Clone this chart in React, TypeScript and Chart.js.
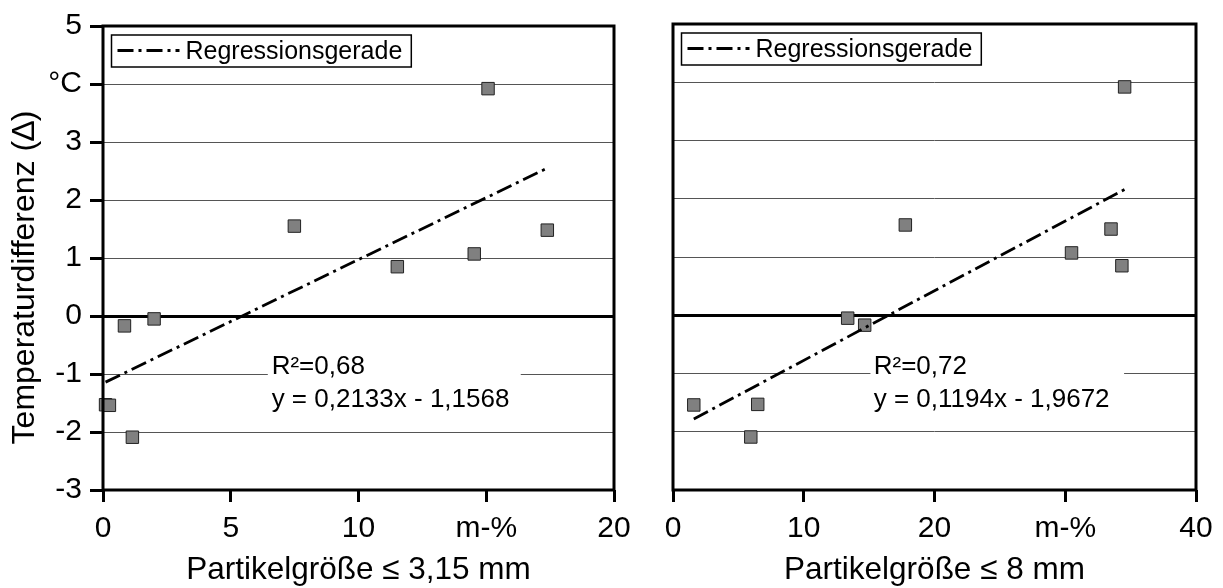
import React, { useEffect, useRef } from 'react';
import { Chart, registerables } from 'chart.js';

Chart.register(...registerables);

const FONT = "'Liberation Sans', Arial, Helvetica, sans-serif";

// Temperature difference (°C) of the samples, shared by both panels
const tempDiff = [3.92, 1.55, 1.48, 0.85, 1.07, -0.05, -0.17, -1.53, -1.54, -2.09];
// Share of particles <= 3.15 mm (m-%)
const share315 = [15.07, 7.49, 17.39, 11.52, 14.53, 2.0, 0.84, 0.1, 0.25, 1.15];
// Share of particles <= 8 mm (m-%)
const share8 = [34.54, 17.77, 33.5, 34.33, 30.48, 13.36, 14.66, 6.48, 1.59, 5.95];

// Regression line end points
const trend315X = [0.1, 17.39];
const trend315Y = [-1.14, 2.55];
const trend8X = [1.59, 34.54];
const trend8Y = [-1.78, 2.16];

const yTickLabels = ['-3', '-2', '-1', '0', '1', '2', '3', '°C', '5'];
const xTickLabels315 = ['0', '5', '10', 'm-%', '20'];
const xTickLabels8 = ['0', '10', '20', 'm-%', '40'];

const legendLabel = 'Regressionsgerade';
const yTitle = 'Temperaturdifferenz (∆)';
const xTitle315 = 'Partikelgröße ≤ 3,15 mm';
const xTitle8 = 'Partikelgröße ≤ 8 mm';
const r2Text315 = 'R²=0,68';
const eqText315 = 'y = 0,2133x - 1,1568';
const r2Text8 = 'R²=0,72';
const eqText8 = 'y = 0,1194x - 1,9672';

const W = 1223;
const H = 588;
const DASH = [16, 5, 3, 5];

type Panel = {
  xs: number[];
  ys: number[];
  tx: number[];
  ty: number[];
  xMax: number;
  xStep: number;
  xLabels: string[];
  xTitle: string;
  r2: string;
  eq: string;
  showY: boolean;
  pad: { left: number; right: number };
  yWidth: number;
  annot: { x0: number; x1: number; textX: number };
};

const panels: Panel[] = [
  {
    xs: share315, ys: tempDiff, tx: trend315X, ty: trend315Y,
    xMax: 20, xStep: 5, xLabels: xTickLabels315, xTitle: xTitle315,
    r2: r2Text315, eq: eqText315, showY: true,
    pad: { left: 0, right: W - 614 }, yWidth: 103,
    annot: { x0: 6.45, x1: 16.35, textX: 6.6 },
  },
  {
    xs: share8, ys: tempDiff, tx: trend8X, ty: trend8Y,
    xMax: 40, xStep: 10, xLabels: xTickLabels8, xTitle: xTitle8,
    r2: r2Text8, eq: eqText8, showY: false,
    pad: { left: 673, right: W - 1196 }, yWidth: 0,
    annot: { x0: 15.1, x1: 34.5, textX: 15.35 },
  },
];

function makeDecor(p: Panel) {
  return {
    id: 'decor',
    beforeDatasetsDraw(chart: any) {
      const ctx = chart.ctx;
      const xs = chart.scales.x;
      const ys = chart.scales.y;
      ctx.save();
      const x0 = xs.getPixelForValue(p.annot.x0);
      const x1 = xs.getPixelForValue(p.annot.x1);
      const yTop = ys.getPixelForValue(-0.63);
      const yBot = ys.getPixelForValue(-1.75);
      ctx.fillStyle = '#fff';
      ctx.fillRect(x0, yTop, x1 - x0, yBot - yTop);
      ctx.fillStyle = '#000';
      ctx.font = `26px ${FONT}`;
      ctx.textAlign = 'left';
      ctx.textBaseline = 'alphabetic';
      const tx = xs.getPixelForValue(p.annot.textX);
      ctx.fillText(p.r2, tx, ys.getPixelForValue(-1));
      ctx.fillText(p.eq, tx, ys.getPixelForValue(-1.57));
      ctx.restore();
    },
    afterDatasetsDraw(chart: any) {
      const ctx = chart.ctx;
      const a = chart.chartArea;
      ctx.save();
      // frame
      ctx.strokeStyle = '#000';
      ctx.lineWidth = 3;
      ctx.setLineDash([]);
      ctx.strokeRect(a.left, a.top, a.right - a.left, a.bottom - a.top);
      // legend
      ctx.font = `25px ${FONT}`;
      const tw = ctx.measureText(legendLabel).width;
      const bx = a.left + 8.5;
      const by = a.top + 9;
      const bh = 32;
      const bw = 6 + 62 + 6 + tw + 9;
      ctx.fillStyle = '#fff';
      ctx.fillRect(bx, by, bw, bh);
      ctx.lineWidth = 1.5;
      ctx.strokeRect(bx, by, bw, bh);
      ctx.lineWidth = 2.8;
      ctx.setLineDash(DASH);
      ctx.beginPath();
      ctx.moveTo(bx + 6, by + 15.5);
      ctx.lineTo(bx + 68, by + 15.5);
      ctx.stroke();
      ctx.setLineDash([]);
      ctx.fillStyle = '#000';
      ctx.textAlign = 'left';
      ctx.textBaseline = 'middle';
      ctx.fillText(legendLabel, bx + 74, by + 17.5);
      // y title
      if (p.showY) {
        ctx.translate(25, (107 + 448) / 2);
        ctx.rotate(-Math.PI / 2);
        ctx.font = `32px ${FONT}`;
        ctx.textAlign = 'center';
        ctx.textBaseline = 'middle';
        ctx.fillText(yTitle, 0, 0);
      }
      ctx.restore();
    },
  };
}

function buildChart(canvas: HTMLCanvasElement, p: Panel) {
  return new Chart(canvas, {
    type: 'scatter',
    data: {
      datasets: [
        {
          type: 'line',
          label: legendLabel,
          data: p.tx.map((x, i) => ({ x, y: p.ty[i] })),
          borderColor: '#000',
          borderWidth: 2.8,
          borderDash: DASH,
          pointRadius: 0,
          fill: false,
          clip: false,
          order: 0,
        } as any,
        {
          type: 'scatter',
          label: 'Messwerte',
          data: p.xs.map((x, i) => ({ x, y: p.ys[i] })),
          pointStyle: 'rect',
          pointRadius: 8.8,
          backgroundColor: '#808080',
          borderColor: '#222',
          borderWidth: 1,
          clip: false,
          order: 1,
        } as any,
      ],
    },
    options: {
      animation: false,
      responsive: false,
      events: [],
      layout: { padding: { left: p.pad.left, right: p.pad.right, top: 24, bottom: 0 } },
      plugins: { legend: { display: false }, tooltip: { enabled: false } },
      scales: {
        x: {
          type: 'linear',
          min: 0,
          max: p.xMax,
          afterFit: (s: any) => { s.height = 98; },
          ticks: {
            stepSize: p.xStep,
            color: '#000',
            padding: 9,
            maxRotation: 0,
            font: { family: FONT, size: 30 },
            callback: (_v: any, i: number) => p.xLabels[i],
          },
          grid: {
            drawOnChartArea: false,
            drawTicks: true,
            tickLength: 12,
            tickColor: '#000',
            tickWidth: 3,
          },
          border: { display: false },
          title: {
            display: true,
            text: p.xTitle,
            color: '#000',
            font: { family: FONT, size: 31.5 },
            padding: { top: 0, bottom: -1 },
          },
        },
        y: {
          type: 'linear',
          min: -3,
          max: 5,
          afterFit: (s: any) => { s.width = p.yWidth; },
          ticks: {
            stepSize: 1,
            display: p.showY,
            color: '#000',
            padding: 8,
            font: { family: FONT, size: 30 },
            callback: (_v: any, i: number) => yTickLabels[i],
          },
          grid: {
            color: (c: any) => (c.tick && c.tick.value === 0 ? '#000' : '#555'),
            lineWidth: (c: any) => (c.tick && c.tick.value === 0 ? 3 : 1),
            drawTicks: p.showY,
            tickLength: 13,
            tickColor: '#000',
            tickWidth: 3,
          },
          border: { display: false },
        },
      },
    },
    plugins: [makeDecor(p)],
  } as any);
}

export default function App() {
  const leftRef = useRef<HTMLCanvasElement>(null);
  const rightRef = useRef<HTMLCanvasElement>(null);

  useEffect(() => {
    const charts: Chart[] = [];
    if (leftRef.current) charts.push(buildChart(leftRef.current, panels[0]));
    if (rightRef.current) charts.push(buildChart(rightRef.current, panels[1]));
    return () => charts.forEach((c) => c.destroy());
  }, []);

  const cs: React.CSSProperties = { position: 'absolute', left: 0, top: 0, width: W, height: H };
  return (
    <div style={{ position: 'absolute', left: 0, top: 0, width: W, height: H, background: '#fff' }}>
      <canvas ref={leftRef} width={W} height={H} style={cs} />
      <canvas ref={rightRef} width={W} height={H} style={cs} />
    </div>
  );
}
